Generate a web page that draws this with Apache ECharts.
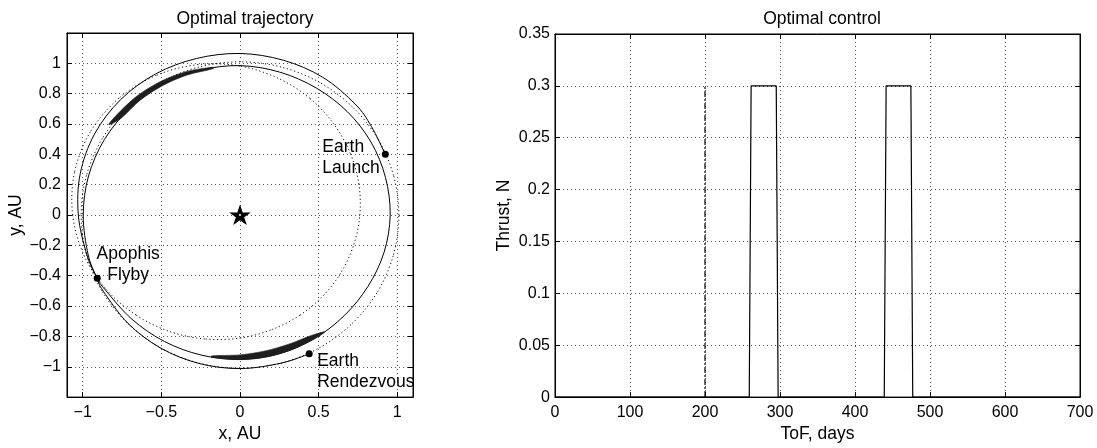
<!DOCTYPE html>
<html>
<head>
<meta charset="utf-8">
<script src="https://cdn.jsdelivr.net/npm/echarts@6/dist/echarts.min.js"></script>
<style>html,body{margin:0;padding:0;background:#fff}#c{width:1097px;height:448px}</style>
</head>
<body>
<div id="c"></div>
<script>
// ---------------- data ----------------
// Spacecraft trajectory (AU), in flight order: launch -> flyby -> thrust arcs -> rendezvous
const trajX = [0.924, 0.835, 0.732, 0.525, 0.274, 0.000, -0.277, -0.537, -0.760, -0.925, -1.016, -1.028, -0.974, -0.908,
  -0.856, -0.687, -0.481, -0.247, 0.000, 0.246, 0.471, 0.663, 0.814, 0.916, 0.955, 0.925, 0.833, 0.682, 0.484, 0.253, 0.000,
  -0.256, -0.495, -0.702, -0.862, -0.963, -0.997, -0.966, -0.909,
  -0.869, -0.713, -0.506, -0.262, 0.000, 0.262, 0.440];
const trajY = [0.400, 0.585, 0.732, 0.909, 1.021, 1.065, 1.032, 0.930, 0.760, 0.534, 0.272, 0.000, -0.261, -0.416,
  -0.494, -0.687, -0.833, -0.923, -0.952, -0.916, -0.816, -0.663, -0.470, -0.246, 0.000, 0.248, 0.481, 0.682, 0.838, 0.942, 0.985,
  0.954, 0.857, 0.702, 0.498, 0.258, 0.000, -0.259, -0.417,
  -0.502, -0.713, -0.876, -0.978, -1.012, -0.976, -0.915];

// Earth orbit (dotted, closed)
const earthX = [1.010, 0.976, 0.875, 0.714, 0.505, 0.261, 0.000, -0.261, -0.505, -0.714, -0.875, -0.976, -1.010,
  -0.976, -0.875, -0.714, -0.505, -0.261, 0.000, 0.261, 0.505, 0.714, 0.875, 0.976, 1.010];
const earthY = [0.000, 0.261, 0.505, 0.714, 0.875, 0.976, 1.010, 0.976, 0.875, 0.714, 0.505, 0.261, 0.000,
  -0.261, -0.505, -0.714, -0.875, -0.976, -1.010, -0.976, -0.875, -0.714, -0.505, -0.261, 0.000];

// Apophis orbit (dotted, closed)
const apophisX = [0.762, 0.756, 0.702, 0.598, 0.444, 0.242, 0.000, -0.266, -0.532, -0.770, -0.951, -1.052, -1.064,
  -0.992, -0.850, -0.660, -0.444, -0.219, 0.000, 0.202, 0.381, 0.530, 0.646, 0.724, 0.762];
const apophisY = [0.000, 0.203, 0.405, 0.598, 0.769, 0.902, 0.982, 0.992, 0.921, 0.770, 0.549, 0.282, 0.000,
  -0.266, -0.491, -0.660, -0.769, -0.817, -0.811, -0.755, -0.660, -0.530, -0.373, -0.194, 0.000];

// Thrust arcs (outline of the hatched bands)
const band1X = [-0.172, -0.344, -0.508, -0.657, -0.785, -0.834, -0.758, -0.635, -0.493, -0.336, -0.171];
const band1Y = [0.975, 0.945, 0.879, 0.783, 0.659, 0.596, 0.637, 0.757, 0.853, 0.923, 0.965];
const band2X = [-0.182, 0.000, 0.165, 0.324, 0.472, 0.539, 0.458, 0.310, 0.158, 0.000, -0.180];
const band2Y = [-0.938, -0.953, -0.936, -0.889, -0.817, -0.770, -0.792, -0.851, -0.896, -0.922, -0.928];

// Events
const eventNames = ['Earth\nLaunch', 'Apophis\nFlyby', 'Earth\nRendezvous'];
const eventX = [0.924, -0.908, 0.440];
const eventY = [0.400, -0.416, -0.915];
const sunX = [0];
const sunY = [0];

// Tick values
const trajXTicks = [-1, -0.5, 0, 0.5, 1];

// Optimal control
const thrustDays = [0, 259, 261.5, 295, 297.5, 439, 441.5, 474.5, 477, 700];
const thrustN = [0, 0, 0.3, 0.3, 0, 0, 0.3, 0.3, 0, 0];
const flybyDays = [200, 200];
const flybyThrust = [0, 0.3];

// ---------------- chart ----------------
const FONT = '"Liberation Sans", Arial, Helvetica, sans-serif';
const zip = (a, b) => a.map((v, i) => [v, b[i]]);
const fmt = v => String(Math.round(v * 100) / 100).replace('-', '\u2212');
const gridLine = { show: true, lineStyle: { color: '#555', width: 1, type: [1, 3] } };
const lbl = { color: '#000', fontSize: 16, fontFamily: FONT };
const nameStyle = { color: '#000', fontSize: 17.5, fontFamily: FONT };
const tick = { inside: true, length: 5, lineStyle: { color: '#000' } };
const aLine = { show: true, onZero: false, lineStyle: { color: '#000', width: 1 } };

// label anchor relative to the marker's box (marker is 7x7)
const labelStyles = [
  { position: [-59.5, 6.5], align: 'left', verticalAlign: 'middle' },
  { position: [34.5, -9.5], align: 'center', verticalAlign: 'middle' },
  { position: [11.5, 21.5], align: 'left', verticalAlign: 'middle' }
];

// Smooth curve through the data points (Catmull-Rom rendered as bezier segments, no clamping)
function curve(xs, ys, closed, style, z) {
  const pts = zip(xs, ys);
  return {
    type: 'custom', xAxisIndex: 0, yAxisIndex: 0, silent: true, z: z,
    data: [pts[0]],
    renderItem: (params, api) => {
      const p = pts.map(q => api.coord(q));
      const n = p.length;
      const children = [];
      for (let i = 0; i < n - 1; i++) {
        const p1 = p[i], p2 = p[i + 1];
        const p0 = i > 0 ? p[i - 1] : (closed ? p[n - 2] : p[i]);
        const p3 = i + 2 < n ? p[i + 2] : (closed ? p[1] : p[i + 1]);
        children.push({
          type: 'bezierCurve',
          shape: {
            x1: p1[0], y1: p1[1], x2: p2[0], y2: p2[1],
            cpx1: p1[0] + (p2[0] - p0[0]) / 6, cpy1: p1[1] + (p2[1] - p0[1]) / 6,
            cpx2: p2[0] - (p3[0] - p1[0]) / 6, cpy2: p2[1] - (p3[1] - p1[1]) / 6
          },
          style: Object.assign({ fill: 'none' }, style)
        });
      }
      return { type: 'group', children: children };
    }
  };
}

function band(xs, ys) {
  const pts = zip(xs, ys);
  return {
    type: 'custom', xAxisIndex: 0, yAxisIndex: 0, silent: true, z: 4,
    data: [pts[0]],
    renderItem: (params, api) => ({
      type: 'polygon',
      shape: { points: pts.map(p => api.coord(p)), smooth: 0.3 },
      style: { fill: '#1e1e1e', stroke: '#1e1e1e', lineWidth: 0.6 }
    })
  };
}

const dotted = { stroke: '#111', lineWidth: 1, lineDash: [1.2, 2.6] };
const solid = { stroke: '#000', lineWidth: 1 };

const option = {
  animation: false,
  backgroundColor: '#ffffff',
  textStyle: { fontFamily: FONT },
  title: [
    { text: 'Optimal trajectory', left: 240, top: 5, textAlign: 'center',
      textStyle: { fontFamily: FONT, fontSize: 17.5, fontWeight: 'normal', color: '#000' } },
    { text: 'Optimal control', left: 817, top: 5, textAlign: 'center',
      textStyle: { fontFamily: FONT, fontSize: 17.5, fontWeight: 'normal', color: '#000' } }
  ],
  grid: [
    { left: 67, top: 33, width: 346, height: 370, show: true, borderColor: '#000', borderWidth: 1, backgroundColor: '#fff' },
    { left: 555, top: 34, width: 525, height: 368, show: true, borderColor: '#000', borderWidth: 1, backgroundColor: '#fff' }
  ],
  xAxis: [
    { gridIndex: 0, type: 'value', min: -1.1, max: 1.1, position: 'bottom',
      name: 'x, AU', nameLocation: 'middle', nameGap: 21, nameTextStyle: nameStyle,
      axisLine: aLine, axisTick: Object.assign({ customValues: trajXTicks }, tick),
      axisLabel: Object.assign({ customValues: trajXTicks, formatter: fmt, margin: 7 }, lbl),
      splitLine: gridLine },
    { gridIndex: 0, type: 'value', min: -1.1, max: 1.1, position: 'top',
      axisLine: aLine, axisTick: Object.assign({ customValues: trajXTicks }, tick),
      axisLabel: { show: false }, splitLine: { show: false } },
    { gridIndex: 1, type: 'value', min: 0, max: 700, interval: 100, position: 'bottom',
      name: 'ToF, days', nameLocation: 'middle', nameGap: 21, nameTextStyle: nameStyle,
      axisLine: aLine, axisTick: tick,
      axisLabel: Object.assign({ margin: 7, formatter: fmt }, lbl), splitLine: gridLine },
    { gridIndex: 1, type: 'value', min: 0, max: 700, interval: 100, position: 'top',
      axisLine: aLine, axisTick: tick, axisLabel: { show: false }, splitLine: { show: false } }
  ],
  yAxis: [
    { gridIndex: 0, type: 'value', min: -1.2, max: 1.2, interval: 0.2, position: 'left',
      name: 'y, AU', nameLocation: 'middle', nameGap: 40, nameRotate: 90, nameTextStyle: nameStyle,
      axisLine: aLine, axisTick: tick,
      axisLabel: Object.assign({ margin: 6, formatter: v => Math.abs(v) > 1.1 ? '' : fmt(v) }, lbl),
      splitLine: gridLine },
    { gridIndex: 0, type: 'value', min: -1.2, max: 1.2, interval: 0.2, position: 'right',
      axisLine: aLine, axisTick: tick, axisLabel: { show: false }, splitLine: { show: false } },
    { gridIndex: 1, type: 'value', min: 0, max: 0.35, interval: 0.05, position: 'left',
      name: 'Thrust, N', nameLocation: 'middle', nameGap: 42, nameRotate: 90, nameTextStyle: nameStyle,
      axisLine: aLine, axisTick: tick,
      axisLabel: Object.assign({ margin: 5, formatter: fmt }, lbl), splitLine: gridLine },
    { gridIndex: 1, type: 'value', min: 0, max: 0.35, interval: 0.05, position: 'right',
      axisLine: aLine, axisTick: tick, axisLabel: { show: false }, splitLine: { show: false } }
  ],
  series: [
    curve(earthX, earthY, true, dotted, 2),
    curve(apophisX, apophisY, true, dotted, 2),
    curve(trajX, trajY, false, solid, 3),
    band(band1X, band1Y),
    band(band2X, band2Y),
    { type: 'scatter', xAxisIndex: 0, yAxisIndex: 0, z: 6, symbol: 'circle', symbolSize: 7,
      itemStyle: { color: '#000', opacity: 1 },
      data: eventNames.map((n, i) => ({
        value: [eventX[i], eventY[i]], name: n,
        label: Object.assign({ show: true, formatter: '{b}', color: '#000', opacity: 1, fontSize: 17.5,
          fontFamily: FONT, lineHeight: 21, textBorderWidth: 0 }, labelStyles[i])
      })) },
    { type: 'scatter', xAxisIndex: 0, yAxisIndex: 0, z: 6,
      symbol: 'path://M50,0 L61.8,35.5 L99,35.5 L69,57.5 L80.5,93 L50,71 L19.5,93 L31,57.5 L1,35.5 L38.2,35.5 Z',
      symbolSize: [18, 17], itemStyle: { color: '#000', borderColor: '#000', borderWidth: 1.2, opacity: 1 },
      data: zip(sunX, sunY) },
    { type: 'scatter', xAxisIndex: 0, yAxisIndex: 0, z: 7, symbol: 'circle', symbolSize: 2,
      itemStyle: { color: '#fff', opacity: 1 }, data: zip(sunX, sunY) },
    { type: 'line', xAxisIndex: 2, yAxisIndex: 2, data: zip(thrustDays, thrustN),
      symbol: 'none', z: 5, clip: false, lineStyle: { color: '#000', width: 1.2 } },
    { type: 'line', xAxisIndex: 2, yAxisIndex: 2, data: zip(flybyDays, flybyThrust),
      symbol: 'none', z: 4, lineStyle: { color: '#000', width: 1.2, type: [6, 2, 2, 2] } }
  ]
};

const chart = echarts.init(document.getElementById('c'), null, { renderer: 'canvas' });
chart.setOption(option);
</script>
</body>
</html>
